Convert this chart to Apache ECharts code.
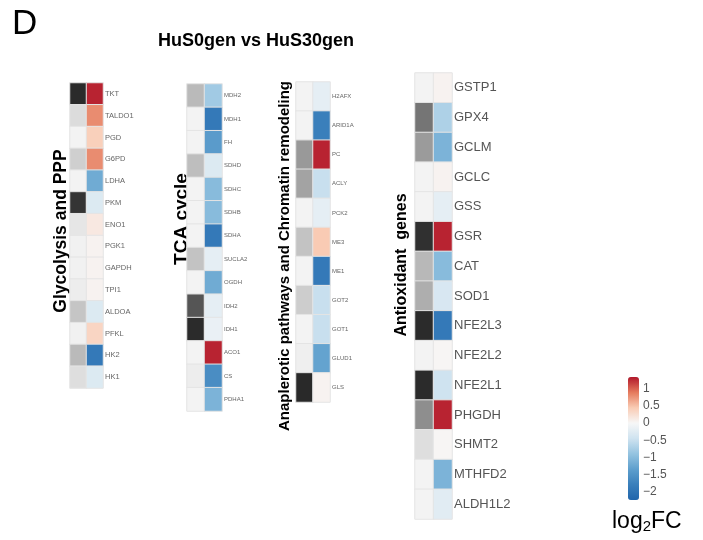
<!DOCTYPE html>
<html>
<head>
<meta charset="utf-8">
<script src="https://cdn.jsdelivr.net/npm/echarts@6/dist/echarts.min.js"></script>
<style>
  html, body { margin: 0; padding: 0; background: #fff; }
  #chart { width: 703px; height: 540px; }
</style>
</head>
<body>
<div id="chart"></div>
<script>
// Gene sets, one per panel (top to bottom)
const glycoGenes = ['TKT','TALDO1','PGD','G6PD','LDHA','PKM','ENO1','PGK1','GAPDH','TPI1','ALDOA','PFKL','HK2','HK1'];
const tcaGenes = ['MDH2','MDH1','FH','SDHD','SDHC','SDHB','SDHA','SUCLA2','OGDH','IDH2','IDH1','ACO1','CS','PDHA1'];
const anaGenes = ['H2AFX','ARID1A','PC','ACLY','PCK2','ME3','ME1','GOT2','GOT1','GLUD1','GLS'];
const antiGenes = ['GSTP1','GPX4','GCLM','GCLC','GSS','GSR','CAT','SOD1','NFE2L3','NFE2L2','NFE2L1','PHGDH','SHMT2','MTHFD2','ALDH1L2'];

// Left (grey) column: relative shade, 0 = white, 1 = black
const glycoGrey = [0.97,0.13,0.02,0.19,0.02,0.93,0.08,0.03,0.03,0.05,0.24,0.03,0.29,0.12];
const tcaGrey = [0.29,0.02,0.02,0.27,0.02,0.02,0.02,0.25,0.02,0.77,0.97,0.02,0.05,0.02];
const anaGrey = [0.02,0.02,0.45,0.40,0.02,0.25,0.02,0.20,0.02,0.04,0.98];
const antiGrey = [0.02,0.62,0.44,0.02,0.02,0.95,0.30,0.35,0.97,0.02,0.97,0.50,0.12,0.02,0.02];

// Right column: log2 fold change
const glycoFC = [1.3,0.8,0.4,0.8,-1.2,-0.3,0.15,0.05,0.05,0.05,-0.3,0.35,-1.9,-0.3];
const tcaFC = [-0.8,-1.9,-1.4,-0.3,-1.0,-1.0,-1.9,-0.2,-1.2,-0.2,-0.15,1.3,-1.6,-1.1];
const anaFC = [-0.2,-1.8,1.3,-0.5,-0.2,0.45,-1.9,-0.5,-0.5,-1.3,0.05];
const antiFC = [0.05,-0.7,-1.1,0.05,-0.2,1.3,-1.0,-0.35,-1.9,0.02,-0.45,1.3,0.02,-1.1,-0.25];

// Colour-bar tick labels
const fcTicks = [-2,-1.5,-1,-0.5,0,0.5,1];

const panels = [
  { genes: glycoGenes, grey: glycoGrey, fc: glycoFC, left: 70, top: 83, width: 33, height: 305, font: 7.5 },
  { genes: tcaGenes, grey: tcaGrey, fc: tcaFC, left: 187, top: 84, width: 35, height: 327, font: 6 },
  { genes: anaGenes, grey: anaGrey, fc: anaFC, left: 296, top: 82, width: 34, height: 320, font: 6 },
  { genes: antiGenes, grey: antiGrey, fc: antiFC, left: 415, top: 73, width: 37, height: 446, font: 13 }
];

const grids = [], xAxes = [], yAxes = [], series = [];
panels.forEach((p, i) => {
  grids.push({ left: p.left, top: p.top, width: p.width, height: p.height });
  xAxes.push({ type: 'category', gridIndex: i, data: ['grey','fc'], show: false });
  yAxes.push({
    type: 'category', gridIndex: i, data: p.genes, inverse: true, position: 'right',
    axisLine: { show: false }, axisTick: { show: false }, splitLine: { show: false },
    axisLabel: { fontSize: p.font, color: p.font > 9 ? '#555' : '#666', margin: 2,
                 fontFamily: 'Liberation Sans, Arial, sans-serif' }
  });
  const cellStyle = { borderColor: '#e4e4e4', borderWidth: 1 };
  series.push({
    type: 'heatmap', xAxisIndex: i, yAxisIndex: i, itemStyle: cellStyle,
    data: p.grey.map((v, r) => [0, r, v]), emphasis: { disabled: true }
  });
  series.push({
    type: 'heatmap', xAxisIndex: i, yAxisIndex: i, itemStyle: cellStyle,
    data: p.fc.map((v, r) => [1, r, v]), emphasis: { disabled: true }
  });
});

// Colour-bar axis (labels only), aligned with the visualMap bar
const cbTop = 377, cbHeight = 123, cbLeft = 628, cbWidth = 11;
const fcMin = -2.25, fcMax = 1.35;
grids.push({ left: cbLeft, top: cbTop, width: cbWidth, height: cbHeight });
xAxes.push({ type: 'value', gridIndex: 4, show: false });
yAxes.push({
  type: 'value', gridIndex: 4, min: fcMin, max: fcMax, position: 'right',
  axisLine: { show: false }, axisTick: { show: false }, splitLine: { show: false },
  axisLabel: {
    customValues: fcTicks, margin: 4, fontSize: 12, color: '#555',
    fontFamily: 'Liberation Sans, Arial, sans-serif',
    formatter: v => (v < 0 ? '\u2212' + Math.abs(v) : String(v))
  }
});

const vTitle = (text, x, y, size) => ({
  type: 'text', x: x, y: y, rotation: Math.PI / 2,
  style: { text: text, font: 'bold ' + size + 'px "Liberation Sans", Arial, sans-serif',
           fill: '#000', align: 'center', verticalAlign: 'middle' }
});

const option = {
  backgroundColor: '#fff',
  animation: false,
  grid: grids,
  xAxis: xAxes,
  yAxis: yAxes,
  visualMap: [
    { type: 'continuous', show: false, min: 0, max: 1, seriesIndex: [0,2,4,6],
      inRange: { color: ['#f7f7f7', '#252525'] } },
    { type: 'continuous', show: true, min: fcMin, max: fcMax, seriesIndex: [1,3,5,7],
      left: cbLeft, top: cbTop, itemWidth: cbWidth, itemHeight: cbHeight, padding: 0,
      text: null, showLabel: false, calculable: false, hoverLink: false,
      inRange: { color: ['#2166ac','#3a7fbb','#5e9fcd','#94c3e0','#cfe3f0','#f7f7f7',
                         '#f9cbb4','#e57a5d','#b2182b'] } }
  ],
  graphic: [
    { type: 'text', left: 12, top: 7,
      style: { text: 'D', font: '35px "Liberation Sans", Arial, sans-serif', fill: '#000' } },
    { type: 'text', left: 158, top: 32,
      style: { text: 'HuS0gen vs HuS30gen', font: 'bold 18px "Liberation Sans", Arial, sans-serif', fill: '#000' } },
    vTitle('Glycolysis and PPP', 61, 231, 17.5),
    vTitle('TCA cycle', 182, 219, 19),
    vTitle('Anaplerotic pathways and Chromatin remodeling', 285, 256, 15),
    vTitle('Antioxidant  genes', 402, 265, 16),
    { type: 'text', left: 612, top: 510,
      style: { rich: { a: { fontSize: 23, fontFamily: 'Liberation Sans, Arial, sans-serif', fill: '#000' },
                       s: { fontSize: 15, fontFamily: 'Liberation Sans, Arial, sans-serif', fill: '#000', padding: [10, 0, 0, 0] } },
               text: '{a|log}{s|2}{a|FC}' } }
  ],
  series: series
};

const chart = echarts.init(document.getElementById('chart'), null, { renderer: 'canvas' });
chart.setOption(option);
</script>
</body>
</html>
